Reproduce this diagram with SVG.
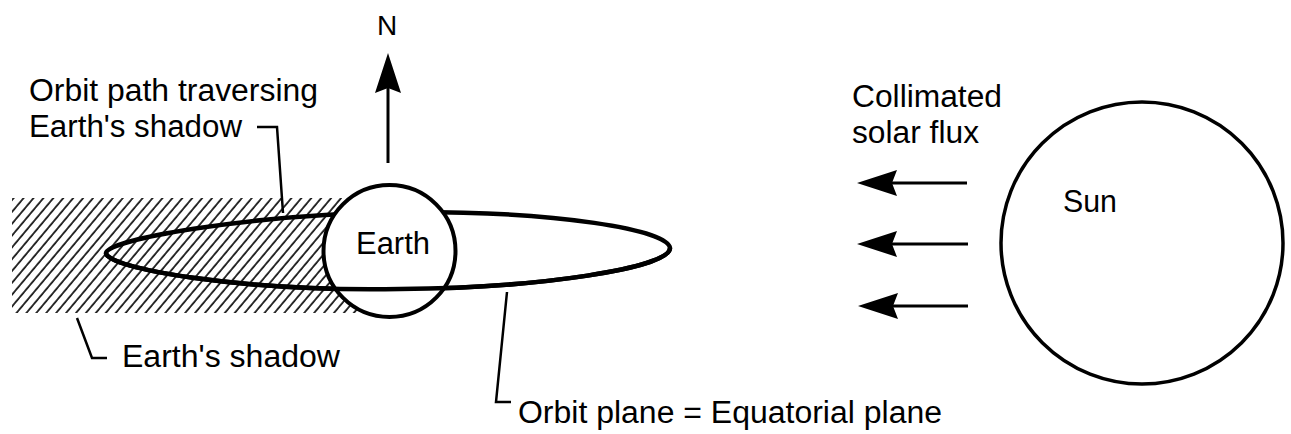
<svg xmlns="http://www.w3.org/2000/svg" width="1291" height="434" viewBox="0 0 1291 434">
<style>
  text { font-family: "Liberation Sans", Arial, Helvetica, sans-serif; font-size: 31px; fill: #000; }
  .lead { fill: none; stroke: #000; stroke-width: 2.5; stroke-linejoin: miter; }
  .orbit { fill: none; stroke: #000; stroke-width: 4.5; }
  .body { fill: #fff; stroke: #000; }
  .ray { stroke: #000; stroke-width: 3; fill: none; marker-end: url(#head); }
</style>
<defs>
  <pattern id="hatch" patternUnits="userSpaceOnUse" width="7.6" height="10" patternTransform="rotate(40)">
    <line x1="1" y1="-1" x2="1" y2="11" stroke="#000" stroke-width="1.6"/>
  </pattern>
  <marker id="head" markerUnits="userSpaceOnUse" viewBox="0 -14 40 28" markerWidth="40" markerHeight="28" refX="5" refY="0" orient="auto">
    <path d="M40,0 L0,-13 L5,0 L0,13 Z" fill="#000"/>
  </marker>
</defs>
<rect width="1291" height="434" fill="#fff"/>

<g id="shadow">
  <rect x="12" y="198" width="378" height="115" fill="url(#hatch)"/>
</g>

<g id="orbit">
  <path class="orbit" d="M106,253 C108,240 240,215 400,212 C560,211 668,230 670,248 C670,268 540,288 400,289 C240,292 106,268 106,253 Z"/>
</g>

<g id="earth">
  <circle class="body" cx="389.5" cy="251" r="66" stroke-width="4"/>
  <text x="356" y="254" textLength="74" lengthAdjust="spacingAndGlyphs">Earth</text>
</g>

<g id="orbit-front">
  <path class="orbit" d="M670,248 C670,268 540,288 400,289 C240,292 106,268 106,253"/>
</g>

<g id="sun">
  <circle class="body" cx="1142" cy="243" r="141" stroke-width="3.5"/>
  <text x="1063" y="212" textLength="54" lengthAdjust="spacingAndGlyphs">Sun</text>
</g>

<g id="connectors">
  <line class="ray" x1="388" y1="163" x2="388" y2="88"/>
  <line class="ray" x1="967" y1="183" x2="892" y2="183"/>
  <line class="ray" x1="968" y1="244" x2="892" y2="244"/>
  <line class="ray" x1="968" y1="306" x2="893" y2="306"/>
  <polyline class="lead" points="257,127 277,127 283,213"/>
  <polyline class="lead" points="77,318 92,358 107,358"/>
  <polyline class="lead" points="507,292 496,402 511,402"/>
</g>

<g id="label-north">
  <text x="387" y="35" text-anchor="middle" font-size="28" style="font-size:28px">N</text>
</g>
<g id="label-orbit-path">
  <text x="29" y="101" textLength="289" lengthAdjust="spacingAndGlyphs">Orbit path traversing</text>
  <text x="29" y="137" textLength="213" lengthAdjust="spacingAndGlyphs">Earth's shadow</text>
</g>
<g id="label-shadow">
  <text x="122" y="367" textLength="218" lengthAdjust="spacingAndGlyphs">Earth's shadow</text>
</g>
<g id="label-plane">
  <text x="518" y="423" textLength="424" lengthAdjust="spacingAndGlyphs">Orbit plane = Equatorial plane</text>
</g>
<g id="label-flux">
  <text x="852" y="107" textLength="150" lengthAdjust="spacingAndGlyphs">Collimated</text>
  <text x="852" y="143" textLength="127" lengthAdjust="spacingAndGlyphs">solar flux</text>
</g>
</svg>
